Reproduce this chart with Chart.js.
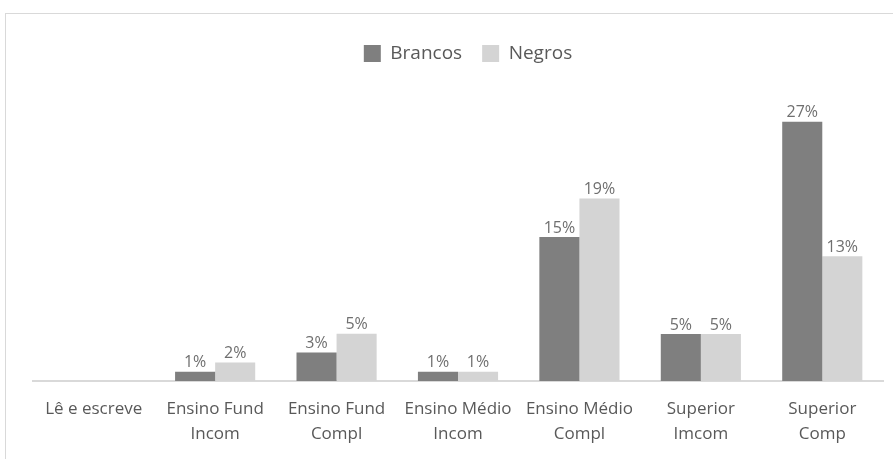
<!DOCTYPE html>
<html>
<head>
<meta charset="utf-8">
<script src="https://cdn.jsdelivr.net/npm/chart.js@4"></script>
<style>
  html, body { margin: 0; padding: 0; background: #fff; overflow: hidden; }
  #frame { position: absolute; left: 5px; top: 13px; width: 900px; height: 460px; border: 1px solid #d9d9d9; }
  #eduChart { position: absolute; left: 0; top: 0; }
</style>
</head>
<body>
<div id="frame"></div>
<canvas id="eduChart" width="893" height="459"></canvas>
<script>
var categories = [
    'Lê e escreve',
    ['Ensino Fund', 'Incom'],
    ['Ensino Fund', 'Compl'],
    ['Ensino Médio', 'Incom'],
    ['Ensino Médio', 'Compl'],
    ['Superior', 'Imcom'],
    ['Superior', 'Comp']
];
var brancos = [0, 0.96, 2.97, 0.96, 15, 4.9, 27];
var negros = [0, 1.93, 4.93, 0.96, 19, 4.9, 13];
var yTicks = [0, 30];

var chartColors = {
    brancos: '#7f7f7f',
    negros: '#d4d4d4',
    text: '#595959',
    label: '#6f6f6f',
    axis: '#d9d9d9'
};

Chart.defaults.font.family = '"Open Sans", sans-serif';
Chart.defaults.color = chartColors.text;

// put % labels above the bars
var barLabels = {
    id: 'barLabels',
    afterDatasetsDraw: function (chart) {
        var ctx = chart.ctx;
        ctx.save();
        ctx.font = '16px "Open Sans", sans-serif';
        ctx.fillStyle = chartColors.label;
        ctx.textAlign = 'center';
        ctx.textBaseline = 'bottom';
        chart.data.datasets.forEach(function (ds, i) {
            chart.getDatasetMeta(i).data.forEach(function (bar, j) {
                if (!ds.data[j]) return;
                ctx.fillText(Math.round(ds.data[j]) + '%', bar.x, bar.y - 1);
            });
        });
        ctx.restore();
    }
};

// more room between legend and bars, legend nudged a bit right
var legendGap = {
    id: 'legendGap',
    beforeLayout: function (chart) {
        var lg = chart.legend;
        if (!lg || lg._gapDone) return;
        var fit = lg.fit;
        lg.fit = function () {
            fit.call(this);
            this.height += 20;
        };
        lg._gapDone = true;
    },
    afterLayout: function (chart) {
        chart.legend.left += 10;
        chart.legend.right += 10;
    }
};

var ctx = document.getElementById('eduChart').getContext('2d');
var myChart = new Chart(ctx, {
    type: 'bar',
    data: {
        labels: categories,
        datasets: [{
            label: 'Brancos',
            backgroundColor: chartColors.brancos,
            data: brancos
        }, {
            label: 'Negros',
            backgroundColor: chartColors.negros,
            data: negros
        }]
    },
    options: {
        responsive: false,
        animation: false,
        layout: { padding: { left: 33, right: 10, top: 24, bottom: -3 } },
        datasets: { bar: { categoryPercentage: 0.66, barPercentage: 1 } },
        plugins: {
            legend: {
                display: true,
                position: 'top',
                labels: {
                    boxWidth: 17,
                    boxHeight: 17,
                    padding: 20,
                    font: { size: 19 },
                    color: chartColors.text
                }
            },
            tooltip: { enabled: false }
        },
        scales: {
            x: {
                grid: { display: false, drawTicks: false },
                border: { display: true, color: chartColors.axis, width: 2 },
                ticks: {
                    padding: 16,
                    maxRotation: 0,
                    autoSkip: false,
                    color: chartColors.text,
                    font: { size: 17, lineHeight: 1.44 }
                }
            },
            y: {
                display: false,
                min: yTicks[0],
                max: yTicks[1]
            }
        }
    },
    plugins: [barLabels, legendGap]
});
</script>
</body>
</html>
